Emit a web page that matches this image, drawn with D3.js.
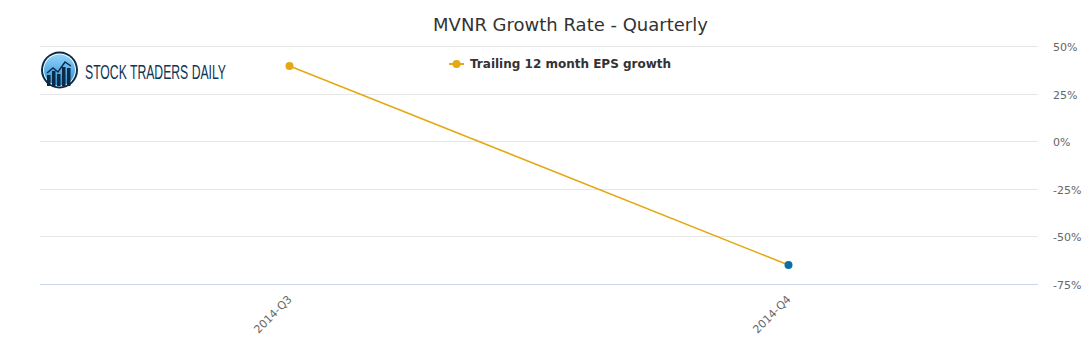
<!DOCTYPE html>
<html><head><meta charset="utf-8">
<script src="https://cdn.jsdelivr.net/npm/d3@7"></script>
<style>body{margin:0;background:#fff}svg{display:block}</style>
</head><body>
<svg id="c" width="1091" height="350"></svg>
<script>
const categories = ["2014-Q3", "2014-Q4"];
const epsGrowth = [39.5, -65];
const yTicks = [50, 25, 0, -25, -50, -75];
const pointColors = ["#e3a812", "#0b6fa6"];

const svg = d3.select("#c");
const ml = 40, mr = 1038, mt = 46, mb = 284;
const x = d3.scaleBand().domain(categories).range([ml, mr]);
const y = d3.scaleLinear().domain([-75, 50]).range([mb, mt]);

// grid
svg.append("g").selectAll("line").data(yTicks.filter(d => d !== -75)).join("line")
  .attr("x1", ml).attr("x2", mr).attr("y1", d => Math.round(y(d)) + 0.5).attr("y2", d => Math.round(y(d)) + 0.5)
  .attr("stroke", "#e6e6e6");
// bottom axis line
svg.append("line").attr("x1", ml).attr("x2", mr).attr("y1", mb + 0.5).attr("y2", mb + 0.5).attr("stroke", "#ccd6eb");

// y labels
const yAxis = d3.axisRight(y).tickValues(yTicks).tickFormat(d => d + "%").tickSize(0).tickPadding(0);
const gy = svg.append("g").attr("transform", `translate(1053,1)`).call(yAxis);
gy.select(".domain").remove();
gy.selectAll("text").attr("fill", "#666").style("font-family", "DejaVu Sans, sans-serif").style("font-size", "11px").attr("dy", "0.32em");

// x labels
const xAxis = d3.axisBottom(x).tickSize(0).tickPadding(0);
const gx = svg.append("g").attr("transform", `translate(0,${mb})`).call(xAxis);
gx.select(".domain").remove();
gx.selectAll("text").attr("fill", "#666").style("font-family", "DejaVu Sans, sans-serif").style("font-size", "11px")
  .attr("text-anchor", "end").attr("dy", null).attr("y", 0)
  .attr("transform", "translate(3,16) rotate(-45)");

// line
const line = d3.line().x((d, i) => x(categories[i]) + x.bandwidth() / 2).y(d => y(d));
svg.append("path").datum(epsGrowth).attr("d", line).attr("fill", "none").attr("stroke", "#e3a812").attr("stroke-width", 1.5);
svg.append("g").selectAll("circle").data(epsGrowth).join("circle")
  .attr("cx", (d, i) => x(categories[i]) + x.bandwidth() / 2).attr("cy", d => y(d)).attr("r", 4)
  .attr("fill", (d, i) => pointColors[i]);

// title
svg.append("text").attr("x", 570.5).attr("y", 31).attr("text-anchor", "middle")
  .style("font-family", "DejaVu Sans, sans-serif").style("font-size", "18px").attr("fill", "#333")
  .text("MVNR Growth Rate - Quarterly");

// legend
const lg = svg.append("g");
lg.append("line").attr("x1", 449).attr("x2", 464).attr("y1", 64).attr("y2", 64).attr("stroke", "#e3a812").attr("stroke-width", 2);
lg.append("circle").attr("cx", 456.5).attr("cy", 64).attr("r", 4).attr("fill", "#e3a812");
lg.append("text").attr("x", 470).attr("y", 68).style("font-family", "DejaVu Sans, sans-serif").style("font-size", "12px")
  .style("font-weight", "bold").attr("fill", "#333").text("Trailing 12 month EPS growth");

// logo
const logo = svg.append("g");
const defs = svg.append("defs");
const grad = defs.append("linearGradient").attr("id", "lg").attr("x1", 0).attr("y1", 0).attr("x2", 0).attr("y2", 1);
grad.append("stop").attr("offset", "0%").attr("stop-color", "#8fd3fb");
grad.append("stop").attr("offset", "100%").attr("stop-color", "#2a8fd6");
logo.append("circle").attr("cx", 59.5).attr("cy", 70).attr("r", 18.5).attr("fill", "#0d2b45");
logo.append("circle").attr("cx", 59.5).attr("cy", 70).attr("r", 16.5).attr("fill", "#fff");
logo.append("circle").attr("cx", 59.5).attr("cy", 70).attr("r", 15.5).attr("fill", "url(#lg)");
const bars = [[47, 75, 11], [52, 71, 15], [57, 74, 12], [62, 67, 19], [67, 68, 18]];
logo.selectAll("rect.b").data(bars).join("rect").attr("x", d => d[0]).attr("y", d => d[1]).attr("width", 3.5).attr("height", d => d[2]).attr("fill", "#0d2b45");
logo.append("polyline").attr("points", "47,73 53,68 58,72 65,62 71,66").attr("fill", "none").attr("stroke", "#0d2b45").attr("stroke-width", 1.5);
logo.append("text").attr("x", 85).attr("y", 79).attr("textLength", 141).attr("lengthAdjust", "spacingAndGlyphs")
  .style("font-family", "Liberation Sans Narrow, Liberation Sans, sans-serif").style("font-size", "20px").attr("fill", "#0f3556")
  .text("STOCK TRADERS DAILY");
</script>
</body></html>
